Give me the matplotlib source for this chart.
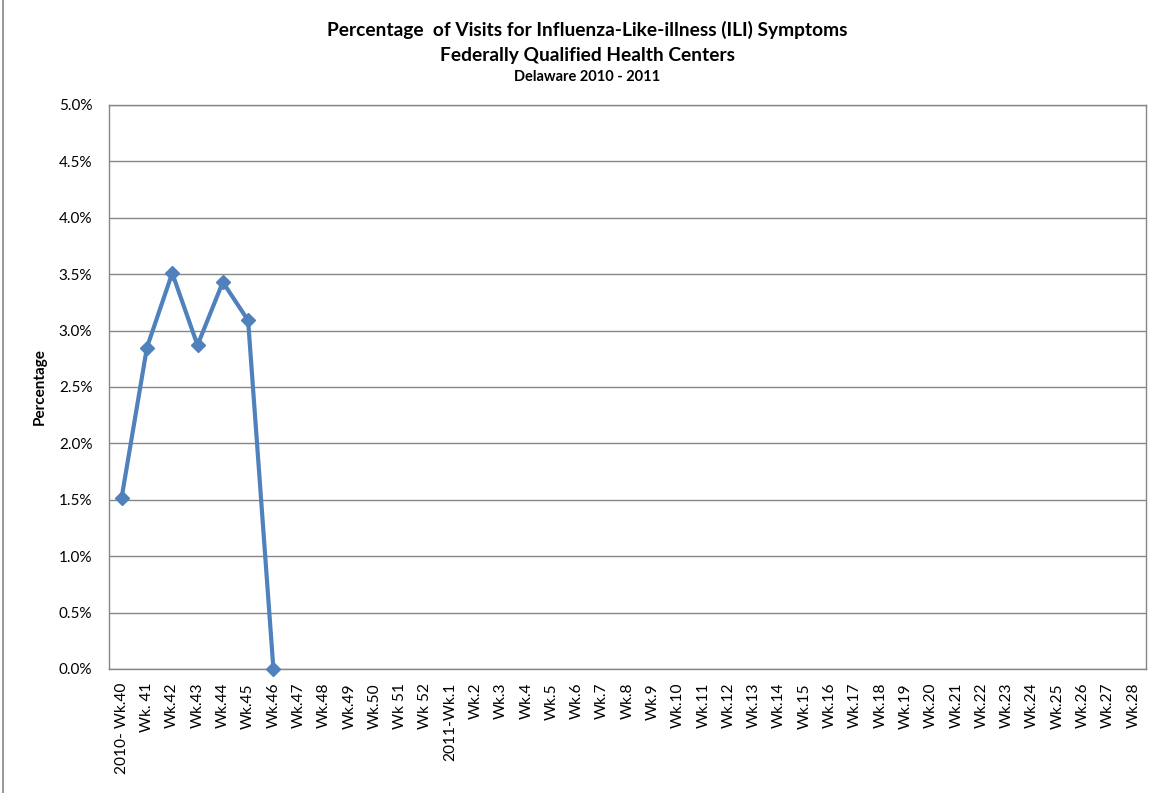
import matplotlib
matplotlib.use("Agg")
import matplotlib.pyplot as plt
from matplotlib.ticker import PercentFormatter
from matplotlib.lines import Line2D

weeks = ["2010- Wk.40", "Wk. 41", "Wk.42", "Wk.43", "Wk.44", "Wk.45", "Wk.46",
         "Wk.47", "Wk.48", "Wk.49", "Wk.50", "Wk 51", "Wk 52", "2011-Wk.1"] + \
        [f"Wk.{i}" for i in range(2, 29)]
ili_pct = [1.52, 2.85, 3.51, 2.87, 3.43, 3.09, 0.0]

plt.rcParams['font.family'] = ['Lato', 'DejaVu Sans']

fig = plt.figure(figsize=(11.63, 7.93), dpi=100)
ax = fig.add_axes([109/1163, 1-669/793, (1146-109)/1163, (669-105)/793])

x = list(range(len(weeks)))
ax.plot(x[:len(ili_pct)], ili_pct, color='#4F81BD', lw=3, marker='D', ms=7.5,
        markeredgecolor='#4F81BD', clip_on=False, zorder=5)

ax.set_xlim(-0.5, len(weeks) - 0.5)
ax.set_ylim(0, 5)
ax.set_yticks([i * 0.5 for i in range(11)])
ax.yaxis.set_major_formatter(PercentFormatter(decimals=1))
ax.set_xticks(x)
ax.set_xticklabels(weeks, rotation=90, va='top', ha='center', fontsize=11.2)
ax.tick_params(axis='x', length=0, pad=10)
ax.tick_params(axis='y', length=0, pad=12, labelsize=11)
ax.grid(axis='y', color='#868686', lw=1)
ax.set_axisbelow(True)
for s in ax.spines.values():
    s.set_color('#868686')
    s.set_linewidth(1)

ax.set_ylabel('Percentage', fontsize=11, fontweight='bold', labelpad=9)

fig.text(587/1163, 1-30/793, 'Percentage  of Visits for Influenza-Like-illness (ILI) Symptoms',
         ha='center', va='center', fontsize=13.8, fontweight='bold')
fig.text(587/1163, 1-56/793, 'Federally Qualified Health Centers',
         ha='center', va='center', fontsize=13.8, fontweight='bold')
fig.text(587/1163, 1-77/793, 'Delaware 2010 - 2011',
         ha='center', va='center', fontsize=10.5, fontweight='bold')

fig.add_artist(Line2D([3/1163, 3/1163], [0, 1], color='#868686', lw=1.2,
                      transform=fig.transFigure))

fig.savefig('out.png', dpi=100, facecolor='white')
